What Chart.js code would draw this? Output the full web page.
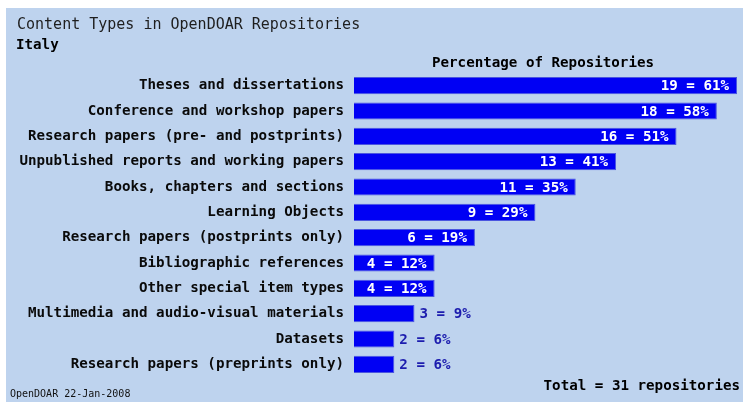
<!DOCTYPE html>
<html>
<head>
<meta charset="utf-8">
<script src="https://cdn.jsdelivr.net/npm/chart.js@4/dist/chart.umd.min.js"></script>
<style>
html,body{margin:0;padding:0;background:#fff;}
canvas{display:block;}
</style>
</head>
<body>
<canvas id="c" width="743" height="402"></canvas>
<script>
const categories = [
  "Theses and dissertations",
  "Conference and workshop papers",
  "Research papers (pre- and postprints)",
  "Unpublished reports and working papers",
  "Books, chapters and sections",
  "Learning Objects",
  "Research papers (postprints only)",
  "Bibliographic references",
  "Other special item types",
  "Multimedia and audio-visual materials",
  "Datasets",
  "Research papers (preprints only)"
];
const counts = [19, 18, 16, 13, 11, 9, 6, 4, 4, 3, 2, 2];
const percents = [61, 58, 51, 41, 35, 29, 19, 12, 12, 9, 6, 6];
const totalRepositories = 31;
const chartTitle = "Content Types in OpenDOAR Repositories";
const chartSubtitle = "Italy";
const axisTitle = "Percentage of Repositories";
const footerText = "OpenDOAR 22-Jan-2008";

const MONO = "'DejaVu Sans Mono', 'Liberation Mono', monospace";
const BG = "#bed3ee";

const decor = {
  id: 'decor',
  beforeDraw(chart) {
    const ctx = chart.ctx;
    ctx.save();
    ctx.fillStyle = '#ffffff';
    ctx.fillRect(0, 0, chart.width, chart.height);
    ctx.fillStyle = BG;
    ctx.fillRect(6, 8, chart.width - 6, chart.height - 8);
    ctx.restore();
  },
  afterDraw(chart) {
    const ctx = chart.ctx;
    const area = chart.chartArea;
    ctx.save();
    ctx.textBaseline = 'alphabetic';
    ctx.fillStyle = '#1e1e1e';
    ctx.textAlign = 'left';
    ctx.font = "15px " + MONO;
    ctx.fillText(chartTitle, 17, 29);
    ctx.fillStyle = '#000';
    ctx.font = "bold 14.2px " + MONO;
    ctx.fillText(chartSubtitle, 16, 49);
    ctx.textAlign = 'center';
    ctx.fillText(axisTitle, 543, 67);
    ctx.textAlign = 'right';
    ctx.fillText("Total = " + totalRepositories + " repositories", 740, 390);
    ctx.textAlign = 'left';
    ctx.font = "10px " + MONO;
    ctx.fillStyle = '#111';
    ctx.fillText(footerText, 10, 397);
    ctx.restore();
  },
  afterDatasetsDraw(chart) {
    const ctx = chart.ctx;
    const meta = chart.getDatasetMeta(0);
    const xs = chart.scales.x;
    ctx.save();
    ctx.font = "bold 14.2px " + MONO;
    ctx.textBaseline = 'middle';
    meta.data.forEach((bar, i) => {
      const label = counts[i] + " = " + percents[i] + "%";
      const w = ctx.measureText(label).width;
      const left = xs.getPixelForValue(0);
      const barW = bar.x - left;
      if (w + 14 <= barW) {
        ctx.fillStyle = '#ffffff';
        ctx.textAlign = 'right';
        ctx.fillText(label, bar.x - 8, bar.y + 1);
      } else {
        ctx.fillStyle = '#1c1cae';
        ctx.textAlign = 'left';
        ctx.fillText(label, bar.x + 5, bar.y + 1);
      }
    });
    ctx.restore();
  }
};

new Chart(document.getElementById('c'), {
  type: 'bar',
  data: {
    labels: categories,
    datasets: [{
      data: counts,
      backgroundColor: '#0000f4',
      borderColor: '#4a55e0',
      borderWidth: 1,
      barPercentage: 0.68,
      categoryPercentage: 1.0
    }]
  },
  options: {
    indexAxis: 'y',
    responsive: false,
    animation: false,
    devicePixelRatio: 1,
    layout: { padding: { top: 73, bottom: 25, right: 6, left: 0 } },
    plugins: { legend: { display: false }, title: { display: false }, tooltip: { enabled: false } },
    scales: {
      x: {
        display: false,
        min: 0,
        max: 19,
        grid: { display: false }
      },
      y: {
        offset: true,
        grid: { display: false, drawTicks: false },
        border: { display: false },
        ticks: {
          color: '#0a0a0a',
          font: { family: MONO, size: 14.2, weight: 'bold' },
          padding: 10,
          autoSkip: false
        },
        afterFit(scale) { scale.width = 354; }
      }
    }
  },
  plugins: [decor]
});
</script>
</body>
</html>
